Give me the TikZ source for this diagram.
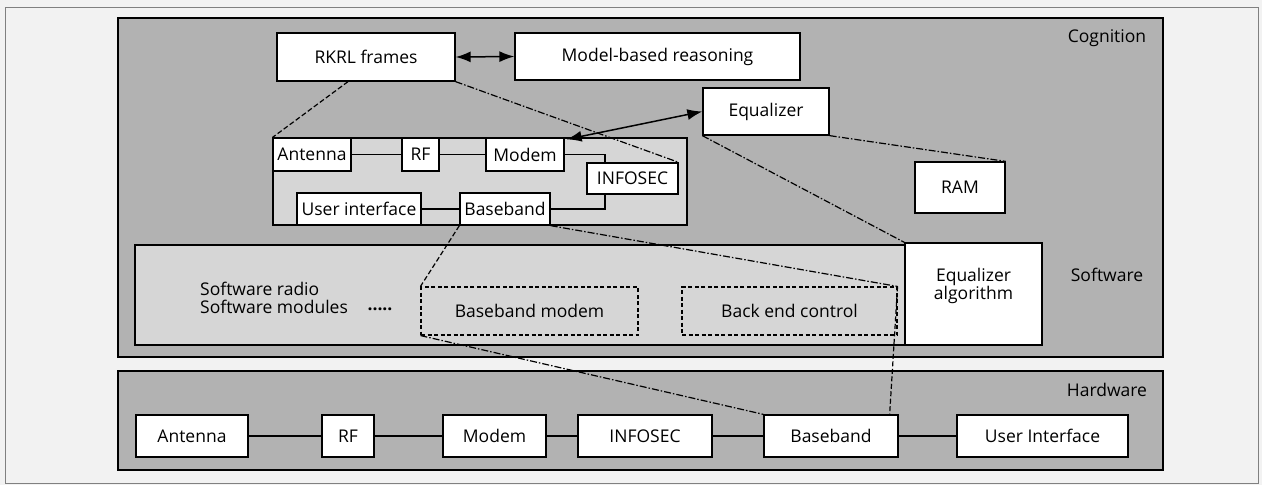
\documentclass[tikz,border=0pt]{standalone}
\usepackage{fontspec}
\setmainfont{Open Sans}
\usetikzlibrary{arrows.meta,calc}
\definecolor{bgout}{gray}{0.95}
\definecolor{layerfill}{gray}{0.70}
\definecolor{swfill}{gray}{0.84}
\tikzset{
  fnt/.style={font=\fontsize{17.5}{19}\selectfont},
  layer/.style={draw=black, line width=1.3pt, fill=layerfill, inner sep=0pt},
  swlayer/.style={draw=black, line width=1.3pt, fill=swfill, inner sep=0pt},
  wbox/.style={draw=black, line width=1.3pt, fill=white, inner sep=0pt, fnt},
  dbox/.style={draw=black, line width=1.1pt, dash pattern=on 4pt off 2.5pt, inner sep=0pt, fnt},
  lbl/.style={inner sep=0pt, fnt},
  link/.style={draw=black, line width=1.1pt},
  dlink/.style={draw=black, line width=1.2pt, dash pattern=on 5pt off 2.5pt},
  ddlink/.style={draw=black, line width=1.2pt, dash pattern=on 7pt off 2pt on 1.5pt off 2pt},
  both/.style={draw=black, line width=1.5pt, {Latex[length=15pt,width=11pt]}-{Latex[length=15pt,width=11pt]}}
}
\begin{document}
\begin{tikzpicture}[x=1pt,y=-1pt]
\useasboundingbox (0,0) rectangle (1262,485);
\fill[bgout] (0,0) rectangle (1262,485);
\draw[gray, line width=0.8pt] (5,7) rectangle (1258,483);
% layers
\node[layer, minimum width=1045pt, minimum height=339pt] (cog) at (640.5,187.5) {};
\node[swlayer, minimum width=770pt, minimum height=100pt] (sw) at (520,295) {};
\node[layer, minimum width=1045pt, minimum height=99pt] (hw) at (640.5,420.5) {};
\node[lbl] (cogl) at (1107,38) {Cognition};
\node[lbl] (swl) at (1107,275) {Software};
\node[lbl] (hwl) at (1107,390) {Hardware};
% cognition top
\node[wbox, minimum width=178pt, minimum height=48pt] (rkrl) at (366,57) {RKRL frames};
\node[wbox, minimum width=285pt, minimum height=47pt] (mbr) at (657.5,56.5) {Model-based reasoning};
\node[wbox, minimum width=126pt, minimum height=47pt] (eq) at (766,111.5) {Equalizer};
\node[wbox, minimum width=90pt, minimum height=51pt] (ram) at (960,187.5) {RAM};
% inner software radio cluster
\node[swlayer, line width=1.1pt, minimum width=414pt, minimum height=87pt] (cont) at (480,181.5) {};
\node[wbox, minimum width=78pt, minimum height=33pt] (iant) at (312,154.5) {Antenna};
\node[wbox, minimum width=37pt, minimum height=33pt] (irf) at (420.5,154.5) {RF};
\node[wbox, minimum width=78pt, minimum height=33pt] (imodem) at (525,154.5) {Modem};
\node[wbox, minimum width=91pt, minimum height=31pt] (iinfo) at (632.5,178.5) {INFOSEC};
\node[wbox, minimum width=124pt, minimum height=32pt] (iui) at (359,209) {User interface};
\node[wbox, minimum width=90pt, minimum height=32pt] (ibase) at (505,209) {Baseband};
% software layer
\node[wbox, align=center, minimum width=137pt, minimum height=102pt, text depth=20pt] (eqalg) at (973.5,294) {Equalizer\\[-1pt]algorithm};
\node[lbl, anchor=west, align=left] (swr) at (200,297.5) {Software radio\\[-1pt]Software modules};
\node[lbl, font=\fontsize{17.5}{19}\selectfont\bfseries] (dots) at (380,309) {.....};
\node[dbox, minimum width=217pt, minimum height=48pt] (bbm) at (529.5,311) {Baseband modem};
\node[dbox, minimum width=215pt, minimum height=48pt] (bec) at (789.5,311) {Back end control};
% hardware layer
\node[wbox, minimum width=112pt, minimum height=42pt] (hant) at (192,436) {Antenna};
\node[wbox, minimum width=52pt, minimum height=42pt] (hrf) at (348,436) {RF};
\node[wbox, minimum width=103pt, minimum height=42pt] (hmodem) at (494.5,436) {Modem};
\node[wbox, minimum width=134pt, minimum height=42pt] (hinfo) at (645,436) {INFOSEC};
\node[wbox, minimum width=134pt, minimum height=42pt] (hbase) at (831,436) {Baseband};
\node[wbox, minimum width=171pt, minimum height=42pt] (hui) at (1042.5,436) {User Interface};
% solid links
\draw[link] (iant.east) -- (irf.west);
\draw[link] (irf.east) -- (imodem.west);
\draw[link] (imodem.east) -| ([xshift=-27.5pt]iinfo.north);
\draw[link] ([xshift=-27.5pt]iinfo.south) |- (ibase.east);
\draw[link] (iui.east) -- (ibase.west);
\draw[link] (hant.east) -- (hrf.west);
\draw[link] (hrf.east) -- (hmodem.west);
\draw[link] (hmodem.east) -- (hinfo.west);
\draw[link] (hinfo.east) -- (hbase.west);
\draw[link] (hbase.east) -- (hui.west);
% arrows
\draw[both] (rkrl.east) -- (mbr.west);
\draw[both] ([xshift=2pt,yshift=-2pt]imodem.north east) -- (eq.west);
% dashed correspondences
\draw[dlink] ([xshift=-18pt]rkrl.south) -- (cont.north west);
\draw[ddlink] (rkrl.south east) -- (iinfo.north east);
\draw[ddlink] (eq.south west) -- (eqalg.north west);
\draw[ddlink] (eq.south east) -- (ram.north east);
\draw[dlink] (ibase.south west) -- (bbm.north west);
\draw[ddlink] (ibase.south east) -- (bec.north east);
\draw[ddlink] (bbm.south west) -- (hbase.north west);
\draw[dlink] (bec.north east) -- ([xshift=-9pt]hbase.north east);
\end{tikzpicture}
\end{document}
